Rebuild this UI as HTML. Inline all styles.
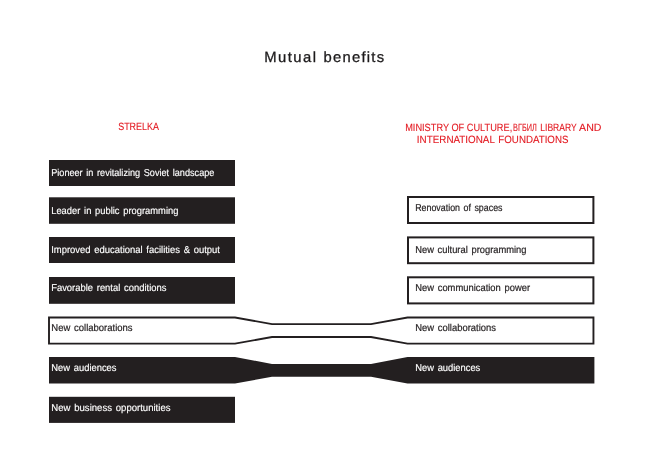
<!DOCTYPE html>
<html><head><meta charset="utf-8"><title>Mutual benefits</title>
<style>html,body{margin:0;padding:0;background:#fff;width:650px;height:458px;overflow:hidden}svg{display:block;will-change:transform}text{font-family:"Liberation Sans",sans-serif;text-rendering:geometricPrecision;word-spacing:1.2px}</style>
</head><body>
<svg width="650" height="458" viewBox="0 0 650 458">
<rect x="49" y="160" width="186" height="26.00" fill="#231f20"/>
<rect x="49" y="197.3" width="186" height="26.50" fill="#231f20"/>
<rect x="49" y="237" width="186" height="26.00" fill="#231f20"/>
<rect x="49" y="277" width="186" height="26.80" fill="#231f20"/>
<rect x="49" y="396.8" width="186" height="26.10" fill="#231f20"/>
<rect x="408.0" y="197.0" width="185.40" height="26.00" fill="none" stroke="#231f20" stroke-width="2"/>
<rect x="408.0" y="237.4" width="185.40" height="25.80" fill="none" stroke="#231f20" stroke-width="2"/>
<rect x="408.0" y="277.3" width="185.40" height="26.10" fill="none" stroke="#231f20" stroke-width="2"/>
<path d="M49.0,317.5 L235,317.5 L272.0,324.1 L371,324.1 L407.5,317.5 L593.45,317.5 L593.45,343.6 L407.5,343.6 L371,337.0 L272.0,337.0 L235,343.6 L49.0,343.6 Z" fill="none" stroke="#231f20" stroke-width="1.9" stroke-linejoin="miter"/>
<path d="M49,357.0 L235,357.0 L272.0,363.9 L371,363.9 L407.5,357.0 L594.4,357.0 L594.4,383.4 L407.5,383.4 L371,376.8 L272.0,376.8 L235,383.4 L49,383.4 Z" fill="#231f20"/>
<text x="264.22" y="62.00" font-size="14.8" fill="#1c1a1b" textLength="51.82" lengthAdjust="spacing" stroke="#1c1a1b" stroke-width="0.3">Mutual</text>
<text x="323.51" y="62.00" font-size="14.8" fill="#1c1a1b" textLength="60.58" lengthAdjust="spacing" stroke="#1c1a1b" stroke-width="0.3">benefits</text>
<text x="118.16" y="130.00" font-size="10.5" fill="#e31b23" textLength="40.87" lengthAdjust="spacingAndGlyphs" stroke="#e31b23" stroke-width="0.12">STRELKA</text>
<text x="405.16" y="131.00" font-size="10.5" fill="#e31b23" textLength="107.05" lengthAdjust="spacingAndGlyphs" style="word-spacing:0" stroke="#e31b23" stroke-width="0.12">MINISTRY OF CULTURE,</text>
<text x="513.06" y="131.00" font-size="10.5" fill="#e31b23" textLength="23.76" lengthAdjust="spacingAndGlyphs" stroke="#e31b23" stroke-width="0.12">ВГБИЛ</text>
<text x="540.26" y="131.00" font-size="10.5" fill="#e31b23" textLength="36.55" lengthAdjust="spacingAndGlyphs" stroke="#e31b23" stroke-width="0.12">LIBRARY</text>
<text x="579.10" y="131.00" font-size="10.5" fill="#e31b23" textLength="22.34" lengthAdjust="spacingAndGlyphs" stroke="#e31b23" stroke-width="0.12">AND</text>
<text x="416.87" y="143.00" font-size="10.5" fill="#e31b23" textLength="78.05" lengthAdjust="spacingAndGlyphs" stroke="#e31b23" stroke-width="0.12">INTERNATIONAL</text>
<text x="498.37" y="143.00" font-size="10.5" fill="#e31b23" textLength="70.06" lengthAdjust="spacingAndGlyphs" stroke="#e31b23" stroke-width="0.12">FOUNDATIONS</text>
<text x="51.20" y="176.00" font-size="10.0" fill="#ffffff" textLength="163.20" lengthAdjust="spacingAndGlyphs" stroke="#ffffff" stroke-width="0.15">Pioneer in revitalizing Soviet landscape</text>
<text x="51.20" y="214.00" font-size="10.0" fill="#ffffff" textLength="127.20" lengthAdjust="spacingAndGlyphs" stroke="#ffffff" stroke-width="0.15">Leader in public programming</text>
<text x="51.20" y="253.00" font-size="10.0" fill="#ffffff" textLength="168.80" lengthAdjust="spacingAndGlyphs" stroke="#ffffff" stroke-width="0.15">Improved educational facilities &amp; output</text>
<text x="51.20" y="291.00" font-size="10.0" fill="#ffffff" textLength="115.20" lengthAdjust="spacingAndGlyphs" stroke="#ffffff" stroke-width="0.15">Favorable rental conditions</text>
<text x="51.30" y="331.00" font-size="10.0" fill="#231f20" textLength="81.30" lengthAdjust="spacingAndGlyphs" stroke="#231f20" stroke-width="0.2">New collaborations</text>
<text x="51.30" y="371.00" font-size="10.0" fill="#ffffff" textLength="65.20" lengthAdjust="spacingAndGlyphs" stroke="#ffffff" stroke-width="0.15">New audiences</text>
<text x="51.30" y="411.00" font-size="10.0" fill="#ffffff" textLength="119.20" lengthAdjust="spacingAndGlyphs" stroke="#ffffff" stroke-width="0.15">New business opportunities</text>
<text x="415.20" y="211.00" font-size="10.0" fill="#231f20" textLength="87.30" lengthAdjust="spacingAndGlyphs" stroke="#231f20" stroke-width="0.2">Renovation of spaces</text>
<text x="415.20" y="253.00" font-size="10.0" fill="#231f20" textLength="111.30" lengthAdjust="spacingAndGlyphs" stroke="#231f20" stroke-width="0.2">New cultural programming</text>
<text x="415.20" y="291.00" font-size="10.0" fill="#231f20" textLength="114.90" lengthAdjust="spacingAndGlyphs" stroke="#231f20" stroke-width="0.2">New communication power</text>
<text x="415.20" y="331.00" font-size="10.0" fill="#231f20" textLength="80.80" lengthAdjust="spacingAndGlyphs" stroke="#231f20" stroke-width="0.2">New collaborations</text>
<text x="415.20" y="371.00" font-size="10.0" fill="#ffffff" textLength="65.10" lengthAdjust="spacingAndGlyphs" stroke="#ffffff" stroke-width="0.15">New audiences</text>
</svg>
</body></html>
